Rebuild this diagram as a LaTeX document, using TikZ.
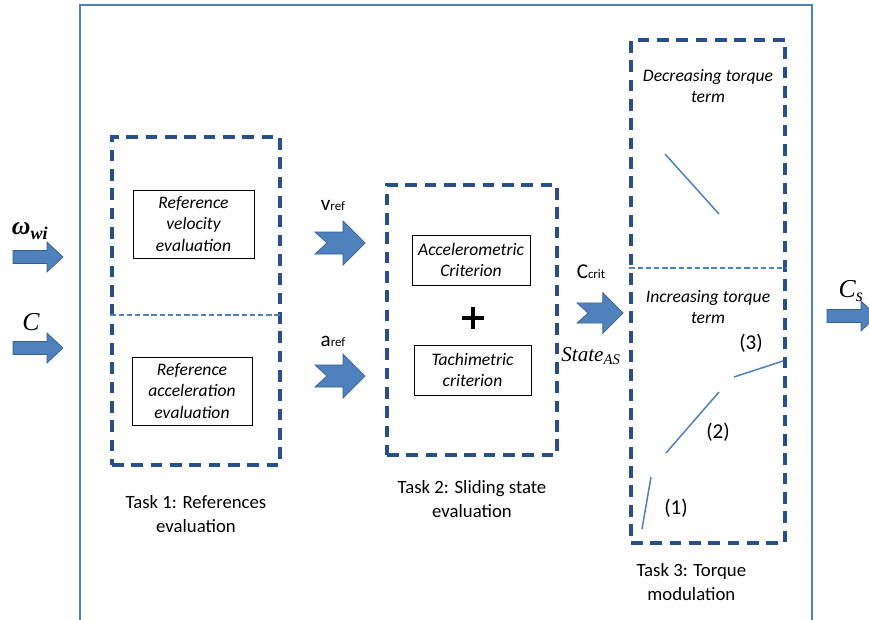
\documentclass[tikz,border=0pt]{standalone}
\usepackage{fontspec}
\setmainfont{Carlito}
\newfontfamily\timesit{Liberation Serif}
\usetikzlibrary{positioning, calc}

\definecolor{frameblue}{RGB}{79,129,189}
\definecolor{dashblue}{RGB}{41,79,138}
\definecolor{arrowedge}{RGB}{56,93,138}

\tikzset{
  frame/.style={draw=frameblue, line width=1.7pt},
  taskbox/.style={draw=dashblue, line width=2.6pt, dash pattern=on 10pt off 6.5pt},
  splitline/.style={draw=frameblue, line width=1.1pt, dash pattern=on 4.5pt off 2.5pt},
  critbox/.style={draw, line width=0.8pt, align=center, inner sep=1pt,
    font=\itshape\fontsize{15}{18}\selectfont},
  termlabel/.style={align=center, font=\itshape\fontsize{15}{18}\selectfont},
  tasklabel/.style={align=center, font=\fontsize{16}{20}\selectfont},
  phaselabel/.style={font=\fontsize{18}{20}\selectfont},
  mathlabel/.style={font=\timesit\itshape\fontsize{22}{24}\selectfont},
  statelabel/.style={font=\timesit\itshape\fontsize{18}{20}\selectfont},
  arrowbody/.style={fill=frameblue, draw=arrowedge, line width=0.6pt},
  segment/.style={draw=frameblue, line width=1.3pt},
  pics/flatarrow/.style={code={
    \path[arrowbody] (0,-6.5) -- (34,-6.5) -- (34,-15) -- (50,0) -- (34,15)
      -- (34,6.5) -- (0,6.5) -- cycle;
  }},
  pics/notcharrow/.style={code={
    \path[arrowbody] (0,-11) -- (28,-11) -- (28,-22) -- (50,0) -- (28,22)
      -- (28,11) -- (0,11) -- (12,0) -- cycle;
  }},
}

\begin{document}
\begin{tikzpicture}[x=0.03cm, y=-0.03cm]
    \useasboundingbox (0,0) rectangle (869,620);

    % outer frame
    \draw[frame] (80,620) -- (80,5) -- (812,5) -- (812,620);

    % inputs
    \pic at (13,257) {flatarrow};
    \pic at (13,348) {flatarrow};
    \node[mathlabel] (omega) at (30,231) {\textbf{ω}\textsubscript{\textbf{wi}}};
    \node[mathlabel] (torque) at (31,322) {C};

    % Task 1
    \node[taskbox, minimum width=5.04cm, minimum height=9.84cm] (task1) at (196,301) {};
    \coordinate (split1) at (0,315);
    \draw[splitline] (task1.west |- split1) -- (task1.east |- split1);
    \node[critbox, minimum width=3.63cm, minimum height=2.04cm] (velo) at (193.5,224)
        {Reference\\velocity\\evaluation};
    \node[critbox, minimum width=3.6cm, minimum height=2.04cm] (accel) at (192,391)
        {Reference\\acceleration\\evaluation};
    \node[tasklabel, below=0.75cm of task1] (lbl1) {Task 1: References\\evaluation};

    % references
    \pic at (315,243) {notcharrow};
    \pic at (315,376) {notcharrow};
    \node (vref) at (333,206) {{\fontsize{18}{18}\selectfont v}{\fontsize{11}{12}\selectfont ref}};
    \node (aref) at (333,341) {{\fontsize{18}{18}\selectfont a}{\fontsize{11}{12}\selectfont ref}};

    % Task 2
    \node[taskbox, minimum width=5.1cm, minimum height=8.1cm] (task2) at (472,320) {};
    \node[critbox, minimum width=3.54cm, minimum height=1.5cm] (acrit) at (471,260)
        {Accelerometric\\Criterion};
    \node[critbox, minimum width=3.51cm, minimum height=1.5cm] (tcrit) at (472.5,370)
        {Tachimetric\\criterion};
    \draw[line width=4pt] (462,318) -- (484,318) (473,307) -- (473,329);
    \node[tasklabel, below=0.6cm of task2] (lbl2) {Task 2: Sliding state\\evaluation};

    % criterion
    \pic[scale=0.92] at (577,313) {notcharrow};
    \node (ccrit) at (591,272) {{\fontsize{18}{18}\selectfont C}{\fontsize{11}{12}\selectfont crit}};
    \node[statelabel] (state) at (591,356) {State\textsubscript{AS}};

    % Task 3
    \node[taskbox, minimum width=4.62cm, minimum height=15.09cm] (task3) at (708,291.5) {};
    \coordinate (split3) at (0,268);
    \draw[splitline] (task3.west |- split3) -- (task3.east |- split3);
    \node[termlabel] (dec) at (708,86) {Decreasing torque\\term};
    \node[termlabel] (inc) at (708,307) {Increasing torque\\term};
    \draw[segment] (665,154) -- (719,214);
    \draw[segment] (642,529) -- (651,477);
    \draw[segment] (666,453) -- (719,392);
    \draw[segment] (734,377) -- (783,361);
    \node[phaselabel] (ph1) at (676,508) {(1)};
    \node[phaselabel] (ph2) at (718,432) {(2)};
    \node[phaselabel] (ph3) at (751,343) {(3)};
    \node[tasklabel, below=0.45cm of task3, xshift=-0.5cm] (lbl3) {Task 3: Torque\\modulation};

    % output
    \pic at (827,316) {flatarrow};
    \node[mathlabel] (cs) at (851,291) {C\textsubscript{s}};
\end{tikzpicture}
\end{document}
